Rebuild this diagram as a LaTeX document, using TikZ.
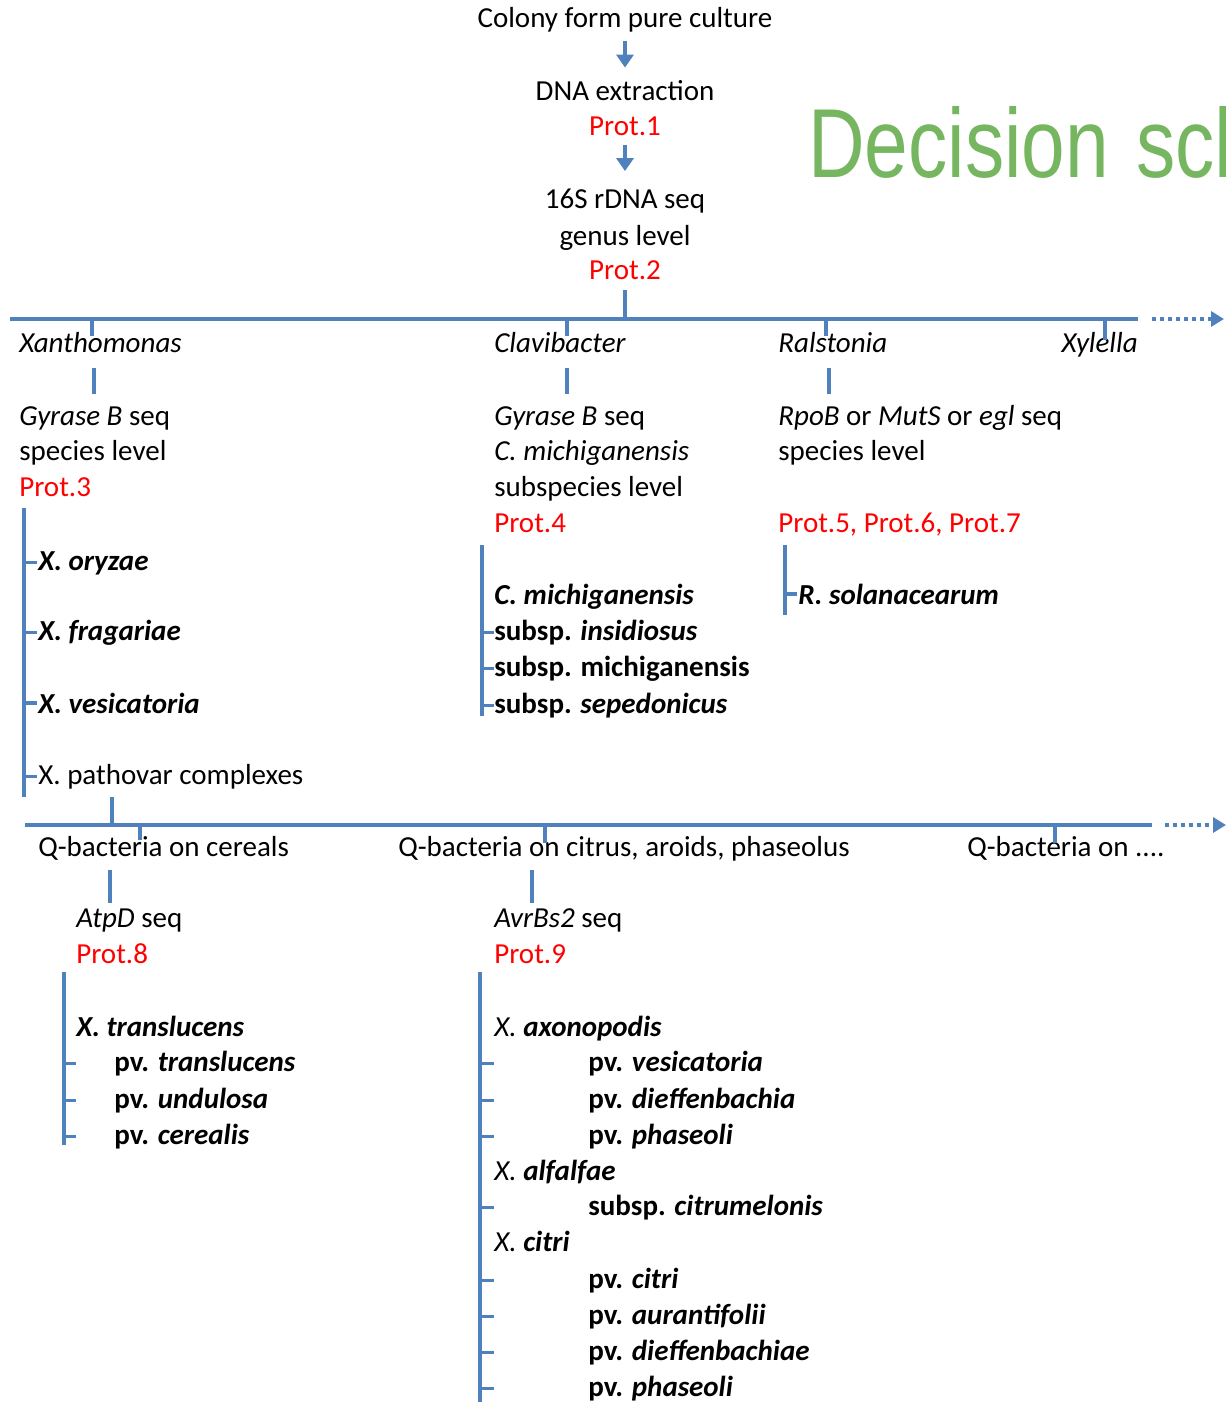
\documentclass[tikz,border=0pt]{standalone}
\usepackage{fontspec}
\setmainfont{Carlito}
\newfontfamily\titlefont[FakeStretch=0.8]{Liberation Sans}
\usetikzlibrary{arrows.meta}

\definecolor{barblue}{RGB}{79,129,189}
\definecolor{protred}{RGB}{255,0,0}
\definecolor{titlegreen}{RGB}{119,182,96}

\newcommand{\bi}[1]{\textbf{\textit{#1}}}

\begin{document}
\begin{tikzpicture}[
    x=0.02cm, y=-0.02cm,
    font=\fontsize{16.5}{20}\selectfont,
    lbl/.style={anchor=base west, inner sep=0pt},
    toplbl/.style={anchor=base, inner sep=0pt},
    prot/.style={text=protred},
    branch/.style={draw=barblue, line width=2.2pt},
    twig/.style={draw=barblue, line width=1.8pt},
    flow/.style={draw=barblue, line width=2.8pt, -{Triangle[width=0.34cm,length=0.26cm]}},
    onward/.style={draw=barblue, line width=2.4pt, dash pattern=on 0.08cm off 0.08cm,
                   -{Triangle[width=0.3cm,length=0.26cm]}}
  ]
  \useasboundingbox (0,0) rectangle (1226,1402);
  \clip (0,0) rectangle (1226,1402);

  % title, cut at the right edge
  \node[lbl, text=titlegreen, font=\titlefont\fontsize{55.8}{60}\selectfont] (title) at (808,178) {Decision\hspace{0.55cm}scheme};

  % common trunk
  \node[toplbl] (colony) at (625,28) {Colony form pure culture};
  \node[toplbl] (dna) at (625,101) {DNA extraction};
  \node[toplbl, prot] (prot1) at (625,136) {Prot.1};
  \node[toplbl] (rdna) at (625,209) {16S rDNA seq};
  \node[toplbl] (genus) at (625,245) {genus level};
  \node[toplbl, prot] (prot2) at (625,279) {Prot.2};
  \draw[flow, shorten <=0.16cm, shorten >=0.26cm] (colony.south) -- (dna.north);
  \draw[flow, shorten <=0.16cm, shorten >=0.36cm] (prot1.south) -- (rdna.north);

  % genus bus
  \coordinate (busA) at (10,319);
  \coordinate (busAend) at (1138,319);
  \coordinate (busAarrow) at (1224,319);
  \draw[branch] (prot2.south |- 0,290) -- (prot2.south |- busA);
  \draw[branch] (busA) -- (busAend);
  \draw[onward] ([xshift=0.28cm]busAend) -- (busAarrow);

  \node[lbl] (xan) at (19,352) {\textit{Xanthomonas}};
  \node[lbl] (clav) at (494,352) {\textit{Clavibacter}};
  \node[lbl] (rals) at (778,352) {\textit{Ralstonia}};
  \node[anchor=base east, inner sep=0pt] (xyl) at (1138,352) {\textit{Xylella}};
  \foreach \x/\y in {92/336, 567/336, 826/336, 1105/340}
    \draw[branch] (\x,319) -- (\x,\y);
  \foreach \x in {94, 567, 829}
    \draw[branch] (\x,368) -- (\x,394);

  % Xanthomonas
  \node[lbl] (gyrX) at (19,425) {\textit{Gyrase B} seq};
  \node[lbl] (spX) at (19,460) {species level};
  \node[lbl, prot] (prot3) at (19,496) {Prot.3};
  \node[lbl] (xory) at (38,570) {\bi{X. oryzae}};
  \node[lbl] (xfra) at (38,640) {\bi{X. fragariae}};
  \node[lbl] (xves) at (38,713) {\bi{X. vesicatoria}};
  \node[lbl] (xpath) at (38,784) {X. pathovar complexes};
  \draw[branch] (24,508) -- (24,797);
  \foreach \n in {xory, xfra, xves, xpath}
    \draw[twig] (24,0 |- \n.west) -- ++(13,0);

  % Clavibacter
  \node[lbl] (gyrC) at (494,425) {\textit{Gyrase B} seq};
  \node[lbl] (cmC) at (494,460) {\textit{C. michiganensis}};
  \node[lbl] (subC) at (494,496) {subspecies level};
  \node[lbl, prot] (prot4) at (494,532) {Prot.4};
  \node[lbl] (cmi) at (494,604) {\bi{C. michiganensis}};
  \node[lbl] (cins) at (494,640) {\textbf{subsp.} \bi{insidiosus}};
  \node[lbl] (cmic) at (494,676) {\textbf{subsp. michiganensis}};
  \node[lbl] (csep) at (494,713) {\textbf{subsp.} \bi{sepedonicus}};
  \draw[branch] (482,545) -- (482,716);
  \foreach \n in {cins, cmic, csep}
    \draw[twig] (482,0 |- \n.west) -- ++(12,0);

  % Ralstonia
  \node[lbl] (rpo) at (778,425) {\textit{RpoB} or \textit{MutS} or \textit{egl} seq};
  \node[lbl] (spR) at (778,460) {species level};
  \node[lbl, prot] (prot567) at (778,532) {Prot.5, Prot.6, Prot.7};
  \node[lbl] (rsol) at (798,604) {\bi{R. solanacearum}};
  \draw[branch] (785,545) -- (785,615);
  \draw[twig] (785,0 |- rsol.west) -- ++(12,0);

  % host bus
  \coordinate (busB) at (25,825);
  \coordinate (busBend) at (1152,825);
  \coordinate (busBarrow) at (1226,825);
  \draw[branch] (112,797) -- (112,0 |- busB);
  \draw[branch] (busB) -- (busBend);
  \draw[onward] ([xshift=0.26cm]busBend) -- (busBarrow);

  \node[lbl] (qcer) at (38,856) {Q-bacteria on cereals};
  \node[lbl] (qcit) at (398,856) {Q-bacteria on citrus, aroids, phaseolus};
  \node[lbl] (qoth) at (967,856) {Q-bacteria on ....};
  \foreach \x/\y in {140/840, 545/843, 1055/843}
    \draw[branch] (\x,825) -- (\x,\y);
  \foreach \x in {110, 532}
    \draw[branch] (\x,870) -- (\x,903);

  % cereals
  \node[lbl] (atp) at (76,927) {\textit{AtpD} seq};
  \node[lbl, prot] (prot8) at (76,963) {Prot.8};
  \node[lbl] (trans) at (76,1036) {\bi{X. translucens}};
  \node[lbl] (pvt) at (114,1071) {\textbf{pv.} \bi{translucens}};
  \node[lbl] (pvu) at (114,1108) {\textbf{pv.} \bi{undulosa}};
  \node[lbl] (pvc) at (114,1144) {\textbf{pv.} \bi{cerealis}};
  \draw[branch] (64,972) -- (64,1145);
  \foreach \n in {pvt, pvu, pvc}
    \draw[twig] (64,0 |- \n.west) -- ++(12,0);

  % citrus, aroids, phaseolus
  \node[lbl] (avr) at (494,927) {\textit{AvrBs2} seq};
  \node[lbl, prot] (prot9) at (494,963) {Prot.9};
  \node[lbl] (axo) at (494,1036) {\textit{X.} \bi{axonopodis}};
  \node[lbl] (pvv) at (588,1071) {\textbf{pv.} \bi{vesicatoria}};
  \node[lbl] (pvd) at (588,1108) {\textbf{pv.} \bi{dieffenbachia}};
  \node[lbl] (pvp) at (588,1144) {\textbf{pv.} \bi{phaseoli}};
  \node[lbl] (alf) at (494,1180) {\textit{X.} \bi{alfalfae}};
  \node[lbl] (citm) at (588,1215) {\textbf{subsp.} \bi{citrumelonis}};
  \node[lbl] (xcit) at (494,1251) {\textit{X.} \bi{citri}};
  \node[lbl] (pvci) at (588,1288) {\textbf{pv.} \bi{citri}};
  \node[lbl] (pva) at (588,1324) {\textbf{pv.} \bi{aurantifolii}};
  \node[lbl] (pvdi) at (588,1360) {\textbf{pv.} \bi{dieffenbachiae}};
  \node[lbl] (pvph) at (588,1396) {\textbf{pv.} \bi{phaseoli}};
  \draw[branch] (480,972) -- (480,1402);
  \foreach \n in {pvv, pvd, pvp, citm, pvci, pva, pvdi, pvph}
    \draw[twig] (480,0 |- \n.west) -- ++(14,0);
\end{tikzpicture}
\end{document}
